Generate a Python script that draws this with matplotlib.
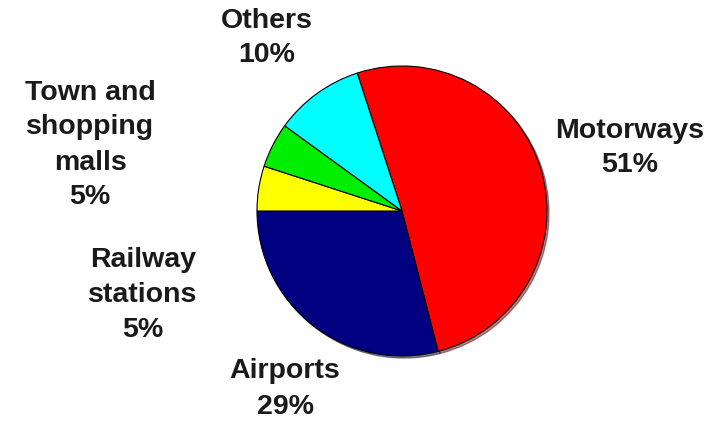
import matplotlib.pyplot as plt

# slices, clockwise starting from Motorways
labels = ["Motorways", "Airports", "Railway\nstations", "Town and\nshopping\nmalls", "Others"]
shares = [51, 29, 5, 5, 10]
colors = ["#ff0000", "#000080", "#ffff00", "#00ee00", "#00ffff"]

plt.rcParams['font.family'] = ['Liberation Sans', 'DejaVu Sans']

fig = plt.figure(figsize=(7.22, 4.22), dpi=100)
ax = fig.add_axes([0, 0, 1, 1])

ax.pie(shares, colors=colors, startangle=108, counterclock=False,
       center=(402, 211), radius=145, frame=True,
       wedgeprops={'edgecolor': 'black', 'linewidth': 0.8},
       shadow={'ox': 1.5, 'oy': -1.5, 'shade': 0.6})
ax.set_xlim(0, 722)
ax.set_ylim(0, 422)
ax.axis('off')

# label positions in pixel coords (x, y from top)
label_pos = [(630, 148), (285, 389), (143, 295), (90, 145), (267, 38)]
for lab, val, (x, y) in zip(labels, shares, label_pos):
    ax.text(x, 422 - y, f"{lab}\n{val}%", ha='center', va='center',
            fontsize=20.5, fontweight='bold', color='#1a1a1a', linespacing=1.45)

fig.savefig("out.png", dpi=100)
